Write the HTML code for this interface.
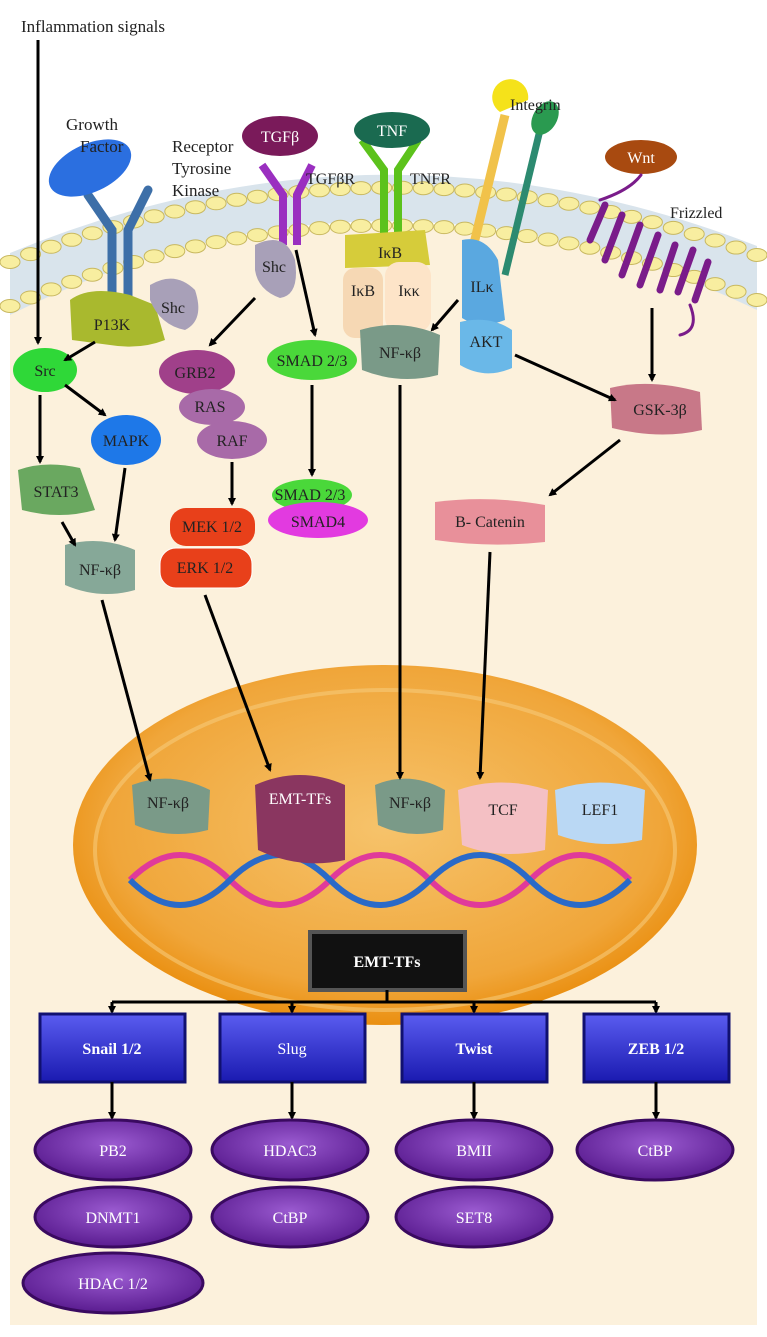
<!DOCTYPE html>
<html><head><meta charset="utf-8"><style>
html,body{margin:0;padding:0;background:#fff}
svg{display:block}
text{font-family:"Liberation Serif",serif}
</style></head><body>
<svg width="767" height="1337" viewBox="0 0 767 1337">
<defs>
<radialGradient id="nuc" cx="0.5" cy="0.45" r="0.55"><stop offset="0" stop-color="#f6c36b"/><stop offset="0.8" stop-color="#f0a63a"/><stop offset="1" stop-color="#ea8f10"/></radialGradient>
<linearGradient id="box" x1="0" y1="0" x2="0" y2="1"><stop offset="0" stop-color="#5a5cf0"/><stop offset="1" stop-color="#1a1ab0"/></linearGradient>
<radialGradient id="pur" cx="0.5" cy="0.4" r="0.6"><stop offset="0" stop-color="#9a5ad0"/><stop offset="1" stop-color="#5a1c90"/></radialGradient>
<marker id="ah" markerWidth="8" markerHeight="8" refX="6" refY="4" orient="auto" markerUnits="userSpaceOnUse"><path d="M0,0 L8,4 L0,8 Z" fill="#000"/></marker>
</defs>
<!-- cell interior -->
<path d="M10,308 Q380,140 757,305 L757,1325 L10,1325 Z" fill="#fcf1dc"/>
<!-- membrane band -->
<path d="M10,253 Q380,100 757,246 L757,310 Q380,130 10,315 Z" fill="#d9e4ec"/>
<g id="beads"></g>
<!-- nucleus -->
<ellipse cx="385" cy="845" rx="312" ry="180" fill="url(#nuc)"/>
<ellipse cx="385" cy="850" rx="290" ry="160" fill="none" stroke="#f7c978" stroke-width="4" opacity="0.6"/>

<!-- receptors -->
<g stroke="#3d6fa8" stroke-width="9" fill="none" stroke-linecap="round">
<path d="M112,300 L112,230 L88,195"/><path d="M128,300 L128,230 L148,190"/></g>
<ellipse cx="90" cy="168" rx="44" ry="24" transform="rotate(-25 90 168)" fill="#2b6fe0"/>
<g stroke="#9a2fc0" stroke-width="8" fill="none"><path d="M283,245 L283,195 L262,165"/><path d="M297,245 L297,195 L312,165"/></g>
<ellipse cx="280" cy="136" rx="38" ry="20" fill="#7a1a5a"/>
<g stroke="#5cc21c" stroke-width="8" fill="none"><path d="M384,240 L384,170 L362,140"/><path d="M398,240 L398,170 L418,140"/></g>
<ellipse cx="392" cy="130" rx="38" ry="18" fill="#1a6a50"/>
<line x1="470" y1="260" x2="505" y2="115" stroke="#f1c24a" stroke-width="9"/>
<path d="M500,112 A18,18 0 1 1 528,100 Z" fill="#f5e21a"/>
<line x1="505" y1="275" x2="540" y2="130" stroke="#2c8a70" stroke-width="7"/>
<ellipse cx="545" cy="118" rx="12" ry="18" transform="rotate(30 545 118)" fill="#2a9a50"/>
<ellipse cx="641" cy="157" rx="36" ry="17" fill="#a84a10"/>
<g stroke="#7a1c8a" stroke-width="7" stroke-linecap="round">
<line x1="590" y1="240" x2="605" y2="205"/><line x1="605" y1="260" x2="622" y2="215"/><line x1="622" y1="275" x2="640" y2="225"/><line x1="640" y1="285" x2="658" y2="235"/><line x1="660" y1="290" x2="675" y2="245"/><line x1="678" y1="292" x2="693" y2="250"/><line x1="695" y1="300" x2="708" y2="262"/>
<path d="M641,175 Q630,190 600,200 M690,305 Q700,330 680,335" fill="none" stroke-width="3"/></g>

<!-- text labels -->
<g font-size="17" fill="#222">
<text x="21" y="32">Inflammation signals</text>
<text x="66" y="130">Growth</text><text x="80" y="152">Factor</text>
<text x="172" y="152">Receptor</text><text x="172" y="174">Tyrosine</text><text x="172" y="196">Kinase</text>
<text x="306" y="184" font-size="16">TGFβR</text><text x="410" y="184" font-size="16">TNFR</text>
<text x="510" y="110" font-size="16">Integrin</text><text x="670" y="218" font-size="16">Frizzled</text>
</g>
<g font-size="16" fill="#fff" text-anchor="middle">
<text x="280" y="142">TGFβ</text><text x="392" y="136">TNF</text><text x="641" y="163">Wnt</text>
</g>

<!-- proteins -->
<g font-size="16" text-anchor="middle" fill="#222">
<path d="M70,300 Q90,285 130,295 L155,305 L165,340 Q140,350 110,345 L72,340 Z" fill="#a9b92e"/><text x="112" y="330">P13K</text>
<path d="M150,285 Q175,270 195,290 Q205,320 185,330 Q160,325 150,300Z" fill="#a8a0b8"/><text x="173" y="313">Shc</text>
<path d="M255,245 Q285,230 295,260 Q300,295 280,298 Q258,290 255,270Z" fill="#a8a0b8"/><text x="274" y="272">Shc</text>
<ellipse cx="45" cy="370" rx="32" ry="22" fill="#2fd838"/><text x="45" y="376">Src</text>
<ellipse cx="126" cy="440" rx="35" ry="25" fill="#1e78e8"/><text x="126" y="446">MAPK</text>
<path d="M18,470 Q45,460 80,468 L95,510 Q60,520 22,510 Z" fill="#6aa860"/><text x="56" y="497">STAT3</text>
<path d="M65,545 Q100,535 135,550 L135,590 Q100,600 65,585Z" fill="#86a898"/><text x="100" y="575">NF-κβ</text>
<ellipse cx="197" cy="372" rx="38" ry="22" fill="#a0408a"/><text x="195" y="378">GRB2</text>
<ellipse cx="212" cy="407" rx="33" ry="18" fill="#a86aa8"/><text x="210" y="412">RAS</text>
<ellipse cx="232" cy="440" rx="35" ry="19" fill="#a86aa8"/><text x="232" y="446">RAF</text>
<rect x="170" y="508" width="85" height="38" rx="16" fill="#e8401a"/><text x="212" y="532" fill="#222">MEK 1/2</text>
<rect x="160" y="548" width="92" height="40" rx="16" fill="#e8401a" stroke="#fff"/><text x="205" y="573">ERK 1/2</text>
<ellipse cx="312" cy="360" rx="45" ry="20" fill="#4ad83a"/><text x="312" y="366">SMAD 2/3</text>
<ellipse cx="312" cy="495" rx="40" ry="16" fill="#4ad83a"/>
<ellipse cx="318" cy="520" rx="50" ry="18" fill="#e23ae0"/><text x="310" y="500">SMAD 2/3</text><text x="318" y="527">SMAD4</text>
<path d="M345,235 L425,230 L430,265 L345,268Z" fill="#d6cc3a"/><text x="390" y="258">IκB</text>
<rect x="343" y="268" width="40" height="70" rx="12" fill="#f6d8b4"/><text x="363" y="296">IκB</text>
<rect x="385" y="262" width="46" height="70" rx="14" fill="#fde4c8"/><text x="409" y="296">Iκκ</text>
<path d="M360,330 Q400,318 440,335 L438,375 Q400,385 362,370Z" fill="#7a9a88"/><text x="400" y="358">NF-κβ</text>
<path d="M462,240 Q485,235 498,260 L505,320 Q480,330 462,318Z" fill="#5aa8e0"/><text x="482" y="292">ILκ</text>
<path d="M460,322 Q490,315 512,330 L512,368 Q485,380 460,365Z" fill="#6ab8e8"/><text x="486" y="347">AKT</text>
<path d="M610,388 Q650,378 700,392 L702,430 Q660,440 612,428Z" fill="#c87888"/><text x="660" y="415">GSK-3β</text>
<path d="M435,502 Q490,495 545,505 L545,542 Q490,548 435,540Z" fill="#e8909a"/><text x="490" y="527">B- Catenin</text>
</g>

<!-- DNA -->
<g stroke-width="6" fill="none">
<path d="M130,880 Q180,830 230,880 T330,880 T430,880 T530,880 T630,880" stroke="#e03a9a"/>
<path d="M130,880 Q180,930 230,880 T330,880 T430,880 T530,880 T630,880" stroke="#2a6ac8"/>
</g>
<g font-size="16" text-anchor="middle" fill="#222">
<path d="M132,785 Q170,770 210,790 L208,830 Q170,840 135,825Z" fill="#7a9a88"/><text x="168" y="808">NF-κβ</text>
<path d="M255,785 Q300,765 345,785 L345,860 Q300,870 258,850Z" fill="#8a3660"/><text x="300" y="804" fill="#fff">EMT-TFs</text>
<path d="M375,785 Q410,770 445,790 L443,830 Q410,840 378,825Z" fill="#7a9a88"/><text x="410" y="808">NF-κβ</text>
<path d="M458,790 Q500,775 548,790 L545,850 Q500,860 462,845Z" fill="#f4c0c4"/><text x="503" y="815">TCF</text>
<path d="M555,790 Q600,775 645,790 L642,840 Q600,850 558,835Z" fill="#bad8f4"/><text x="600" y="815">LEF1</text>
</g>

<!-- arrows -->
<g stroke="#000" stroke-width="3" fill="none" marker-end="url(#ah)">
<line x1="38" y1="40" x2="38" y2="343"/>
<line x1="95" y1="342" x2="65" y2="360"/>
<line x1="40" y1="395" x2="40" y2="462"/>
<line x1="65" y1="385" x2="105" y2="415"/>
<line x1="62" y1="522" x2="75" y2="545"/>
<line x1="125" y1="468" x2="115" y2="540"/>
<line x1="102" y1="600" x2="150" y2="780"/>
<line x1="255" y1="298" x2="210" y2="345"/>
<line x1="232" y1="462" x2="232" y2="504"/>
<line x1="205" y1="595" x2="270" y2="770"/>
<line x1="296" y1="250" x2="315" y2="335"/>
<line x1="312" y1="385" x2="312" y2="475"/>
<line x1="400" y1="385" x2="400" y2="778"/>
<line x1="458" y1="300" x2="432" y2="330"/>
<line x1="515" y1="355" x2="615" y2="400"/>
<line x1="652" y1="308" x2="652" y2="380"/>
<line x1="620" y1="440" x2="550" y2="495"/>
<line x1="490" y1="552" x2="480" y2="778"/>
</g>

<!-- EMT-TFs tree -->
<rect x="310" y="932" width="155" height="58" fill="#111" stroke="#555" stroke-width="4"/>
<text x="387" y="967" text-anchor="middle" font-size="16" font-weight="bold" fill="#fff">EMT-TFs</text>
<g stroke="#000" stroke-width="3" fill="none">
<line x1="387" y1="990" x2="387" y2="1002"/><line x1="112" y1="1002" x2="656" y2="1002"/>
</g>
<g stroke="#000" stroke-width="3" marker-end="url(#ah)">
<line x1="112" y1="1002" x2="112" y2="1012"/><line x1="292" y1="1002" x2="292" y2="1012"/><line x1="474" y1="1002" x2="474" y2="1012"/><line x1="656" y1="1002" x2="656" y2="1012"/>
</g>
<g font-size="16" text-anchor="middle" fill="#fff">
<rect x="40" y="1014" width="145" height="68" fill="url(#box)" stroke="#101070" stroke-width="3"/><text x="112" y="1054" font-weight="bold">Snail 1/2</text>
<rect x="220" y="1014" width="145" height="68" fill="url(#box)" stroke="#101070" stroke-width="3"/><text x="292" y="1054">Slug</text>
<rect x="402" y="1014" width="145" height="68" fill="url(#box)" stroke="#101070" stroke-width="3"/><text x="474" y="1054" font-weight="bold">Twist</text>
<rect x="584" y="1014" width="145" height="68" fill="url(#box)" stroke="#101070" stroke-width="3"/><text x="656" y="1054" font-weight="bold">ZEB 1/2</text>
</g>
<g stroke="#000" stroke-width="3" marker-end="url(#ah)">
<line x1="112" y1="1082" x2="112" y2="1118"/><line x1="292" y1="1082" x2="292" y2="1118"/><line x1="474" y1="1082" x2="474" y2="1118"/><line x1="656" y1="1082" x2="656" y2="1118"/>
</g>
<g font-size="16" text-anchor="middle" fill="#fff" stroke-width="3">
<ellipse cx="113" cy="1150" rx="78" ry="30" fill="url(#pur)" stroke="#3a0a60"/><text x="113" y="1156">PB2</text>
<ellipse cx="113" cy="1217" rx="78" ry="30" fill="url(#pur)" stroke="#3a0a60"/><text x="113" y="1223">DNMT1</text>
<ellipse cx="113" cy="1283" rx="90" ry="30" fill="url(#pur)" stroke="#3a0a60"/><text x="113" y="1289">HDAC 1/2</text>
<ellipse cx="290" cy="1150" rx="78" ry="30" fill="url(#pur)" stroke="#3a0a60"/><text x="290" y="1156">HDAC3</text>
<ellipse cx="290" cy="1217" rx="78" ry="30" fill="url(#pur)" stroke="#3a0a60"/><text x="290" y="1223">CtBP</text>
<ellipse cx="474" cy="1150" rx="78" ry="30" fill="url(#pur)" stroke="#3a0a60"/><text x="474" y="1156">BMII</text>
<ellipse cx="474" cy="1217" rx="78" ry="30" fill="url(#pur)" stroke="#3a0a60"/><text x="474" y="1223">SET8</text>
<ellipse cx="655" cy="1150" rx="78" ry="30" fill="url(#pur)" stroke="#3a0a60"/><text x="655" y="1156">CtBP</text>
</g>
</svg>
<script>
var g=document.getElementById('beads');
function q(t,a,b,c){return (1-t)*(1-t)*a+2*(1-t)*t*b+t*t*c;}
[[262,117,255],[306,148,300]].forEach(function(r){
 for(var i=0;i<=36;i++){var t=i/36;var x=q(t,10,380,757),y=q(t,r[0],r[1],r[2]);
  var e=document.createElementNS('http://www.w3.org/2000/svg','ellipse');
  
  
  e.setAttribute('cx',x);e.setAttribute('cy',y);e.setAttribute('rx',10);e.setAttribute('ry',6.5);
  e.setAttribute('fill','#f8eea0');e.setAttribute('stroke','#c8b860');e.setAttribute('stroke-width','1');
  g.insertBefore(e,null);}
});
</script>
</body></html>
